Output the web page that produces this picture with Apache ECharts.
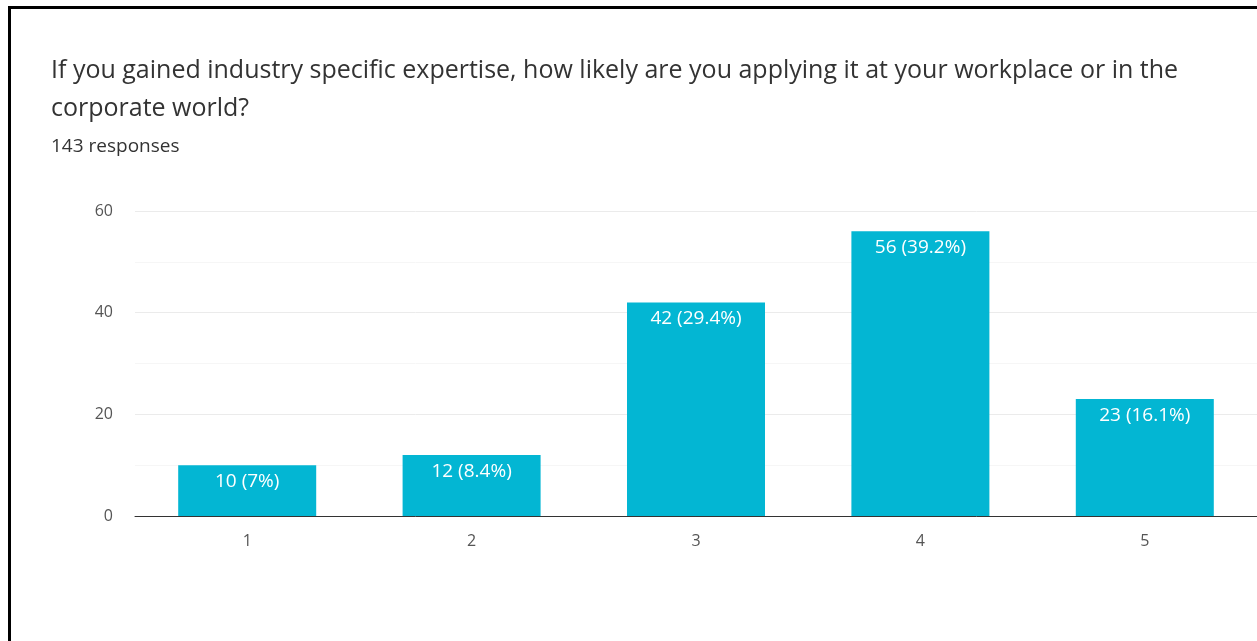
<html>
    <head>
        <meta charset='utf-8'>
        <title>Expertise survey</title>
        <style>
            body { margin: 0; background: #fff; }
            #chart_area { width: 1257px; height: 641px; }
            #frame {
                position: absolute;
                left: 8px;
                top: 6px;
                width: 1260px;
                height: 640px;
                border-left: 3px solid #000;
                border-top: 3px solid #000;
                pointer-events: none;
            }
        </style>
        <script type="text/javascript" src="https://cdn.jsdelivr.net/npm/echarts@6/dist/echarts.min.js"></script>
    </head>
    <body>
        <div id="chart_area"></div>
        <div id="frame"></div>
    </body>
    <script type="text/javascript">
        var question = 'If you gained industry specific expertise, how likely are you applying it at your workplace or in the\ncorporate world?';
        var responses_text = '143 responses';
        var categories = ['1', '2', '3', '4', '5'];
        var counts = [10, 12, 42, 56, 23];
        var percents = ['7%', '8.4%', '29.4%', '39.2%', '16.1%'];

        var chart = echarts.init(document.getElementById('chart_area'));
        var option = {
            animation: false,
            textStyle: {fontFamily: 'Open Sans'},
            title: {
                text: question,
                subtext: responses_text,
                left: 46,
                top: 47,
                itemGap: 9,
                textStyle: {fontSize: 25, fontWeight: 'normal', color: '#333', lineHeight: 38, fontFamily: 'Open Sans'},
                subtextStyle: {fontSize: 19, color: '#333', fontFamily: 'Open Sans'}
            },
            grid: {left: 135, right: 0, top: 211, bottom: 125},
            xAxis: {
                type: 'category',
                data: categories,
                axisLine: {lineStyle: {color: '#333', width: 1}},
                axisTick: {show: false},
                axisLabel: {fontSize: 16, color: '#555', margin: 17}
            },
            yAxis: {
                type: 'value',
                min: 0,
                max: 60,
                interval: 20,
                axisLine: {show: false},
                axisTick: {show: false},
                axisLabel: {fontSize: 16, color: '#555', margin: 22},
                splitLine: {lineStyle: {color: '#ebebeb'}},
                minorTick: {show: false, splitNumber: 2},
                minorSplitLine: {show: true, lineStyle: {color: '#f6f6f6'}}
            },
            series: [{
                type: 'bar',
                data: counts,
                barWidth: 138,
                itemStyle: {color: '#03b6d3'},
                label: {
                    show: true,
                    position: 'insideTop',
                    distance: 7,
                    color: '#fff',
                    fontSize: 19,
                    formatter: function (p) {
                        return counts[p.dataIndex] + ' (' + percents[p.dataIndex] + ')';
                    }
                }
            }]
        };
        chart.setOption(option);
    </script>
</html>
